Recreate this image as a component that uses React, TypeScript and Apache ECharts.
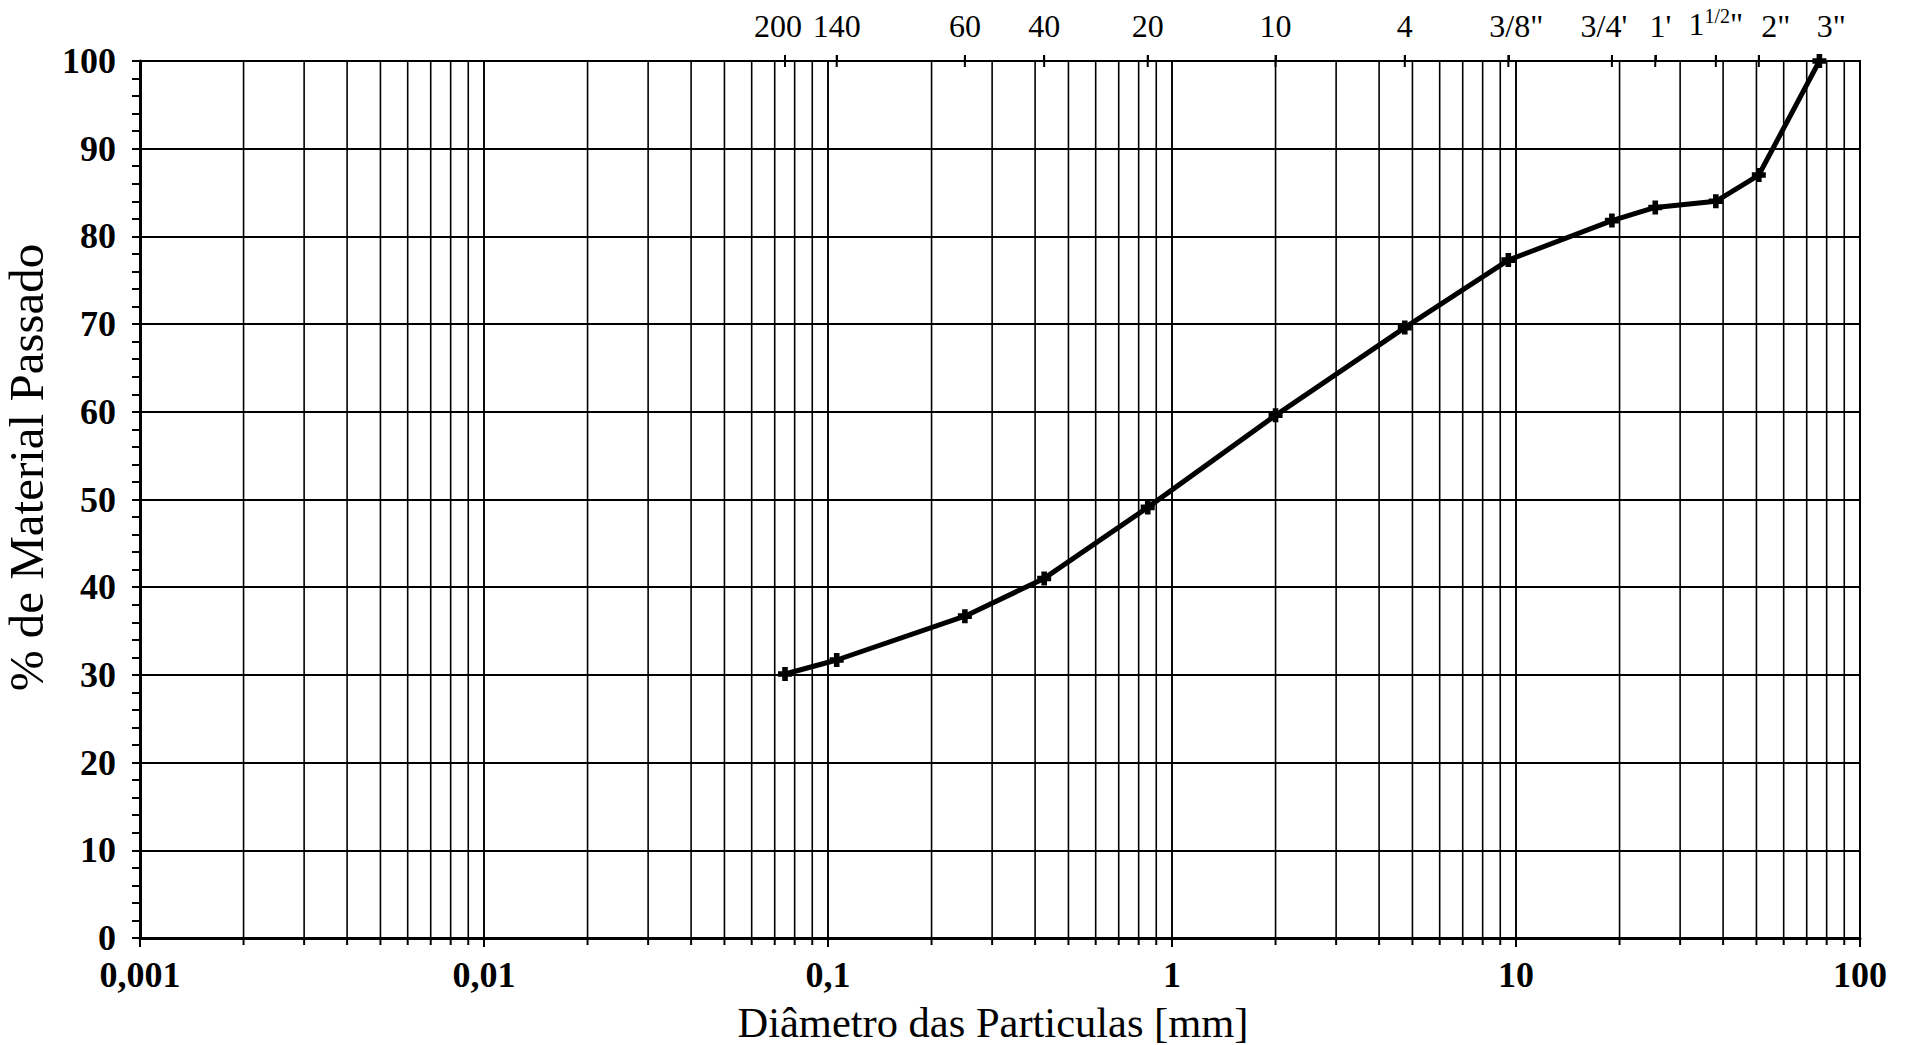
import React, { useEffect, useRef } from "react";
import * as echarts from "echarts";

// Sieve openings (mm) and their sieve designations (top axis)
const sieveSizes = [0.075, 0.106, 0.25, 0.425, 0.85, 2.0, 4.75, 9.5, 19.0, 25.4, 38.1, 50.8, 76.2];
const sieveLabels = ["200", "140", "60", "40", "20", "10", "4", '3/8"', "3/4'", "1'", '1{sup|1/2}"', '2"', '3"'];
// % passing for each sieve
const passing = [30.1, 31.7, 36.7, 41.0, 49.1, 59.6, 69.6, 77.3, 81.8, 83.3, 84.0, 87.0, 100];

// Log grid positions (mm)
const gridValues = [
  0.002, 0.003, 0.004, 0.005, 0.006, 0.007, 0.008, 0.009, 0.01,
  0.02, 0.03, 0.04, 0.05, 0.06, 0.07, 0.08, 0.09, 0.1,
  0.2, 0.3, 0.4, 0.5, 0.6, 0.7, 0.8, 0.9, 1,
  2, 3, 4, 5, 6, 7, 8, 9, 10,
  20, 30, 40, 50, 60, 70, 80, 90,
];
const bottomTickLabels: Record<string, string> = {
  "0.001": "0,001",
  "0.01": "0,01",
  "0.1": "0,1",
  "1": "1",
  "10": "10",
  "100": "100",
};

const FONT = "'Liberation Serif', 'Times New Roman', serif";
// horizontal nudge (px) of each top label relative to its tick (layout only)
const topLabelShift = [-7, 0, 0, 0, 0, 0, 0, 8, -8, 5, 2, 17, 12];

export default function App() {
  const ref = useRef<HTMLDivElement>(null);
  useEffect(() => {
    if (!ref.current) return;
    const chart = echarts.init(ref.current, null, { renderer: "svg" });
    const plusSymbol = "path://M3,0h4v3h3v4h-3v3h-4v-3h-3v-4h3z";

    const topRich: any = {};
    topLabelShift.forEach((d, i) => {
      topRich["p" + i] = {
        fontFamily: FONT,
        fontSize: 32,
        color: "#000",
        width: 0,
        padding: [0, d < 0 ? -2 * d : 0, 0, d > 0 ? 2 * d : 0],
      };
    });
    topRich.sup = { fontFamily: FONT, fontSize: 20, color: "#000", padding: [0, 0, 16, 0] };
    topRich.n = { fontFamily: FONT, fontSize: 32, color: "#000" };

    const topFormatter = (v: number) => {
      let best = 0;
      let bd = Infinity;
      sieveSizes.forEach((s, i) => {
        const d = Math.abs(Math.log10(s) - Math.log10(v));
        if (d < bd) {
          bd = d;
          best = i;
        }
      });
      const lab = sieveLabels[best];
      const d = topLabelShift[best];
      const lp = d > 0 ? 2 * d : 0;
      const rp = d < 0 ? -2 * d : 0;
      if (lab.indexOf("{") >= 0) {
        return lab.replace(/^([^{]*)\{sup\|([^}]*)\}(.*)$/, (_m, a, b, c) => `{n|${a}}{sup|${b}}{n|${c}}`);
      }
      topRich["p" + best].padding = [0, rp, 0, lp];
      return `{p${best}|${lab}}`;
    };

    const option: any = {
      animation: false,
      backgroundColor: "#fff",
      grid: {
        left: 140,
        right: 48,
        top: 61,
        bottom: 107,
        show: true,
        borderColor: "#000",
        borderWidth: 2,
        backgroundColor: "transparent",
        outerBoundsMode: "none",
        containLabel: false,
      },
      xAxis: [
        {
          type: "log",
          logBase: 10,
          min: 0.001,
          max: 100,
          position: "bottom",
          name: "Diâmetro das Particulas [mm]",
          nameLocation: "middle",
          nameGap: 63,
          nameTextStyle: { fontFamily: FONT, fontSize: 42.5, color: "#000", padding: [0, 14, 0, 0] },
          axisLine: { show: true, lineStyle: { color: "#000", width: 3 } },
          axisTick: { show: true, length: 9, lineStyle: { color: "#000", width: 2 } },
          axisLabel: {
            margin: 19,
            fontFamily: FONT,
            fontSize: 36,
            lineHeight: 36,
            fontWeight: "bold",
            color: "#000",
            formatter: (v: number) => {
              const k = String(+v.toPrecision(6));
              return bottomTickLabels[k] ?? "";
            },
          },
          splitLine: { show: true, lineStyle: { color: "#000", width: 1.6 } },
          minorTick: { show: false },
        },
        {
          type: "log",
          logBase: 10,
          min: 0.001,
          max: 100,
          position: "top",
          axisLine: { show: false },
          axisTick: {
            show: true,
            length: 6,
            customValues: sieveSizes,
            lineStyle: { color: "#000", width: 2 },
          },
          axisLabel: {
            show: true,
            margin: 19,
            customValues: sieveSizes,
            fontFamily: FONT,
            fontSize: 32,
            color: "#000",
            formatter: topFormatter,
            rich: topRich,
          },
          splitLine: { show: false },
        },
      ],
      yAxis: {
        type: "value",
        min: 0,
        max: 100,
        interval: 10,
        name: "% de Material Passado",
        nameLocation: "middle",
        nameGap: 71,
        nameRotate: 90,
        nameTextStyle: { fontFamily: FONT, fontSize: 49, color: "#000", padding: [0, 0, 0, 64] },
        axisLine: { show: true, lineStyle: { color: "#000", width: 3 } },
        axisTick: { show: true, length: 8, lineStyle: { color: "#000", width: 2 } },
        minorTick: { show: true, splitNumber: 5, length: 8, lineStyle: { color: "#000", width: 2 } },
        axisLabel: {
          margin: 24,
          fontFamily: FONT,
          fontSize: 36,
          lineHeight: 36,
          fontWeight: "bold",
          color: "#000",
        },
        splitLine: { show: true, lineStyle: { color: "#000", width: 2 } },
      },
      series: [
        {
          type: "custom",
          xAxisIndex: 0,
          yAxisIndex: 0,
          silent: true,
          clip: false,
          z: 1,
          data: gridValues.map((v) => [v, 0]),
          encode: { x: 0, y: 1 },
          renderItem: (params: any, api: any) => {
            const v = api.value(0);
            const top = api.coord([v, 100]);
            const bot = api.coord([v, 0]);
            return {
              type: "group",
              children: [
                {
                  type: "line",
                  shape: { x1: top[0], y1: top[1], x2: bot[0], y2: bot[1] },
                  style: { stroke: "#000", lineWidth: 1.6 },
                },
                {
                  type: "line",
                  shape: { x1: bot[0], y1: bot[1], x2: bot[0], y2: bot[1] + 7 },
                  style: { stroke: "#000", lineWidth: 2 },
                },
              ],
            };
          },
        },
        {
          type: "custom",
          xAxisIndex: 0,
          yAxisIndex: 0,
          silent: true,
          clip: false,
          z: 3,
          data: sieveSizes.map((v) => [v, 100]),
          encode: { x: 0, y: 1 },
          renderItem: (params: any, api: any) => {
            const p = api.coord([api.value(0), 100]);
            return {
              type: "line",
              shape: { x1: p[0], y1: p[1] - 6, x2: p[0], y2: p[1] + 6 },
              style: { stroke: "#000", lineWidth: 2 },
            };
          },
        },
        {
          type: "line",
          xAxisIndex: 0,
          yAxisIndex: 0,
          z: 5,
          data: sieveSizes.map((s, i) => [s, passing[i]]),
          lineStyle: { color: "#000", width: 5 },
          itemStyle: { color: "#000", borderWidth: 0 },
          symbol: plusSymbol,
          symbolSize: 14,
          showSymbol: true,
        },
      ],
    };
    chart.setOption(option);
    return () => chart.dispose();
  }, []);
  return (
    <div
      ref={ref}
      style={{ position: "fixed", left: 0, top: 0, width: 1908, height: 1045, background: "#fff" }}
    />
  );
}
